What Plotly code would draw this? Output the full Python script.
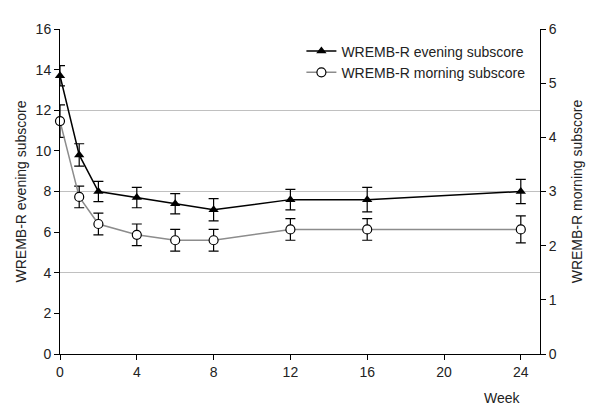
import plotly.graph_objects as go

weeks = [0, 1, 2, 4, 6, 8, 12, 16, 24]
evening = [13.7, 9.8, 8.0, 7.7, 7.4, 7.1, 7.6, 7.6, 8.0]
evening_err = [0.5, 0.55, 0.5, 0.5, 0.5, 0.55, 0.5, 0.6, 0.6]
morning = [4.3, 2.9, 2.4, 2.2, 2.1, 2.1, 2.3, 2.3, 2.3]
morning_err = [0.3, 0.2, 0.2, 0.2, 0.2, 0.2, 0.2, 0.2, 0.25]

x_ticks = [0, 4, 8, 12, 16, 20, 24]
left_ticks = [0, 2, 4, 6, 8, 10, 12, 14, 16]
right_ticks = [0, 1, 2, 3, 4, 5, 6]

font = "Liberation Sans, Arial, sans-serif"

fig = go.Figure()
fig.add_trace(go.Scatter(
    x=weeks, y=morning, yaxis="y2", name="WREMB-R morning subscore",
    mode="lines+markers",
    line=dict(color="#8c8c8c", width=1.5),
    marker=dict(symbol="circle", size=9, color="white", line=dict(color="black", width=1.2)),
    error_y=dict(type="data", array=morning_err, color="black", thickness=1.2, width=5),
    cliponaxis=False,
))
fig.add_trace(go.Scatter(
    x=weeks, y=evening, yaxis="y", name="WREMB-R evening subscore",
    mode="lines+markers",
    line=dict(color="black", width=1.5),
    marker=dict(symbol="triangle-up", size=9, color="black"),
    error_y=dict(type="data", array=evening_err, color="black", thickness=1.2, width=5),
    cliponaxis=False,
))
# hidden axis only for gridlines at every 4
fig.add_trace(go.Scatter(x=[0], y=[0], yaxis="y3", mode="markers", marker=dict(opacity=0),
                         showlegend=False, hoverinfo="skip"))

fig.update_layout(
    width=592, height=401,
    margin=dict(l=52, r=60, t=21, b=55, autoexpand=False),
    paper_bgcolor="white", plot_bgcolor="white",
    font=dict(family=font, size=14, color="#222"),
    xaxis=dict(range=[0, 25], tickvals=x_ticks, showline=True, linecolor="black", linewidth=1,
               ticks="outside", ticklen=5, tickcolor="black", showgrid=False, zeroline=False,
               automargin=False),
    yaxis=dict(range=[0, 16], tickvals=left_ticks, showline=True, linecolor="black", linewidth=1,
               ticks="outside", ticklen=5, tickcolor="black", showgrid=False, zeroline=False,
               automargin=False,
               title=dict(text="WREMB-R evening subscore", font=dict(size=14), standoff=5)),
    yaxis2=dict(range=[0, 6], tickvals=right_ticks, overlaying="y", side="right",
                showline=True, linecolor="black", linewidth=1, automargin=False,
                ticks="outside", ticklen=5, tickcolor="black", showgrid=False, zeroline=False,
                title=dict(text="WREMB-R morning subscore", font=dict(size=14), standoff=16)),
    yaxis3=dict(range=[0, 16.03], dtick=4, overlaying="y", showticklabels=False, ticks="",
                showgrid=True, gridcolor="#c0c0c0", gridwidth=1, zeroline=False, showline=False,
                automargin=False, layer="below traces"),
    legend=dict(x=0.98, y=0.98, xanchor="right", yanchor="top", bgcolor="rgba(0,0,0,0)",
                font=dict(size=14), traceorder="reversed", tracegroupgap=0),
    showlegend=True,
    annotations=[dict(text="Week", xref="paper", yref="paper", x=0.965, y=-0.135,
                      xanchor="right", yanchor="middle", showarrow=False, font=dict(size=14))],
)

fig.write_html("out.html")
